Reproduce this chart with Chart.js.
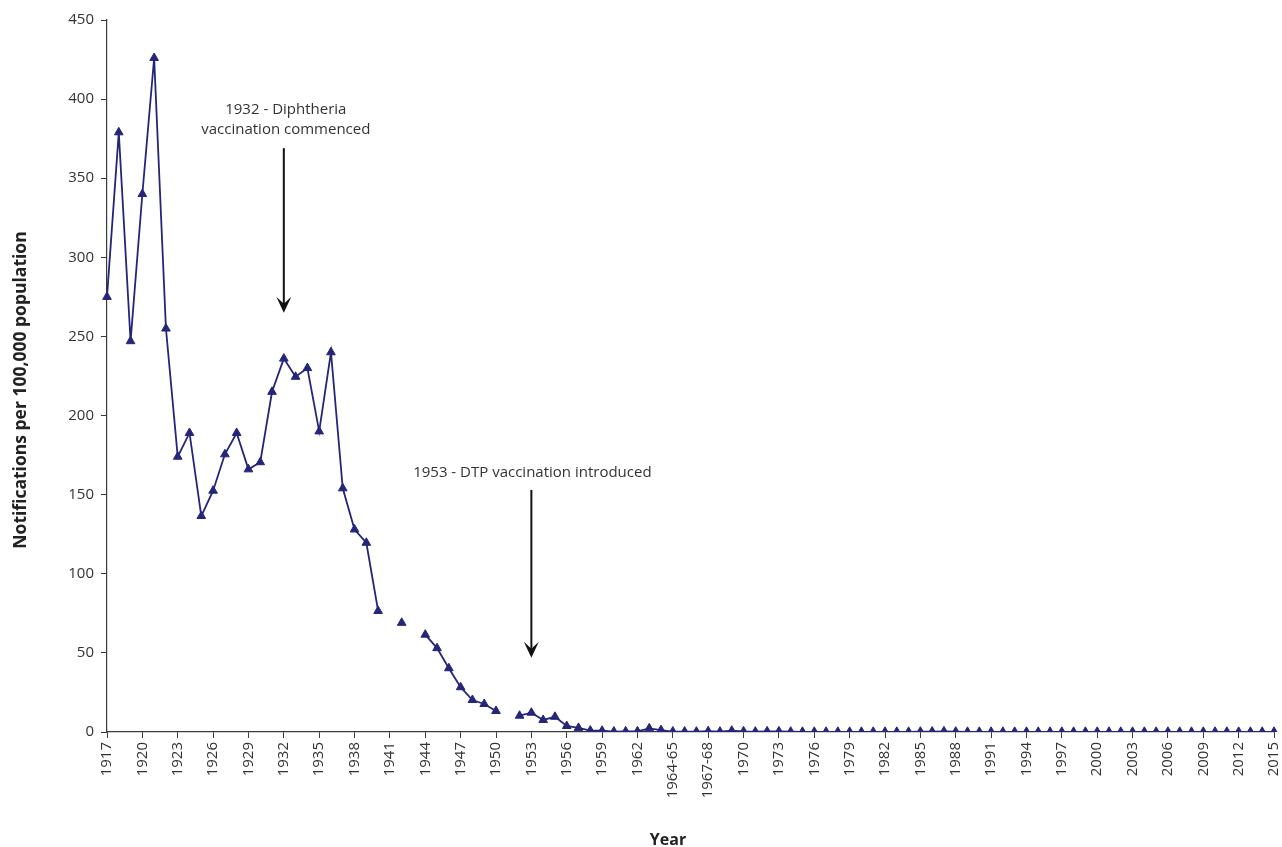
<!DOCTYPE html>
<html>
<head>
<meta charset="utf-8">
<script src="https://cdn.jsdelivr.net/npm/chart.js@4.4.1/dist/chart.umd.min.js"></script>
<style>
  html, body { margin: 0; padding: 0; background: #ffffff; }
  #wrap { width: 1282px; height: 847px; position: relative; }
</style>
</head>
<body>
<div id="wrap"><canvas id="c" width="1282" height="847"></canvas></div>
<script>
// ---------- DATA ----------
const categories = [
  "1917","1918","1919","1920","1921","1922","1923","1924","1925","1926",
  "1927","1928","1929","1930","1931","1932","1933","1934","1935","1936",
  "1937","1938","1939","1940","1941","1942","1943","1944","1945","1946",
  "1947","1948","1949","1950","1951","1952","1953","1954","1955","1956",
  "1957","1958","1959","1960","1961","1962","1963","1964","1964-65","1965-66",
  "1966-67","1967-68","1968-69","1969","1970","1971","1972","1973","1974","1975",
  "1976","1977","1978","1979","1980","1981","1982","1983","1984","1985",
  "1986","1987","1988","1989","1990","1991","1992","1993","1994","1995",
  "1996","1997","1998","1999","2000","2001","2002","2003","2004","2005",
  "2006","2007","2008","2009","2010","2011","2012","2013","2014","2015"
];

const notificationRates = [
  275, 379, 247, 340, 426, 255, 174, 189, 136.5, 152.5,
  175.5, 189, 166, 170.5, 215, 236, 224.5, 230, 190, 240,
  154, 128, 119.6, 76.5, null, 69, null, 61.5, 53, 40.3,
  28.3, 20.2, 17.7, 13.3, null, 10.3, 12.2, 7.6, 9.6, 3.8,
  2.6, 0.9, 0.8, 0.3, 0.4, 0.4, 2.3, 1.2, 0.3, 0.3,
  0.2, 0.5, 0.2, 0.8, 0.4, 0.2, 0.4, 0.4, 0.2, 0.1,
  0.1, 0.1, 0.1, 0.1, 0.1, 0.1, 0.1, 0.1, 0.1, 0.2,
  0.3, 0.4, 0.2, 0.1, 0.1, 0.1, 0.1, 0.1, 0.1, 0.1,
  0.1, 0.1, 0.1, 0.1, 0.1, 0.1, 0.1, 0.1, 0.1, 0.1,
  0.1, 0.1, 0.1, 0.1, 0.1, 0.1, 0.1, 0.1, 0.1, 0.1
];

const yTickValues = [0, 50, 100, 150, 200, 250, 300, 350, 400, 450];

const annotationTexts = [
  ["1932 - Diphtheria", "vaccination commenced"],
  ["1953 - DTP vaccination introduced"]
];
const annotationCategories = ["1932", "1953"];

const xAxisTitle = "Year";
const yAxisTitle = "Notifications per 100,000 population";

// ---------- STYLE / LAYOUT ----------
const FONT = "'Open Sans', 'Noto Sans', 'DejaVu Sans', sans-serif";
const LINE_COLOR = '#25257a';
const AXIS_COLOR = '#3a3a3a';
const TEXT_COLOR = '#333333';

// annotation placement (value-space anchors for text and arrows)
const annotationLayout = [
  { textY: [393, 380.5], arrowFrom: 369, arrowTo: 265, dx: 2 },
  { textY: [164], arrowFrom: 153, arrowTo: 47, dx: 1 }
];

const annotationPlugin = {
  id: 'vaxAnnotations',
  afterDatasetsDraw(chart) {
    const { ctx, scales: { x, y } } = chart;
    ctx.save();
    annotationTexts.forEach((lines, i) => {
      const L = annotationLayout[i];
      const px = x.getPixelForValue(categories.indexOf(annotationCategories[i]));
      ctx.font = "15px " + FONT;
      ctx.fillStyle = TEXT_COLOR;
      ctx.textAlign = 'center';
      ctx.textBaseline = 'middle';
      lines.forEach((t, j) => ctx.fillText(t, px + L.dx, y.getPixelForValue(L.textY[j])));
      const y0 = y.getPixelForValue(L.arrowFrom);
      const y1 = y.getPixelForValue(L.arrowTo);
      ctx.strokeStyle = '#111';
      ctx.lineWidth = 2;
      ctx.beginPath();
      ctx.moveTo(px, y0);
      ctx.lineTo(px, y1 - 8);
      ctx.stroke();
      ctx.fillStyle = '#111';
      ctx.beginPath();
      ctx.moveTo(px, y1);
      ctx.lineTo(px - 7.5, y1 - 16);
      ctx.lineTo(px, y1 - 9);
      ctx.lineTo(px + 7.5, y1 - 16);
      ctx.closePath();
      ctx.fill();
    });

    // axis titles
    ctx.fillStyle = '#222';
    ctx.textAlign = 'center';
    ctx.textBaseline = 'middle';
    ctx.font = "bold 16px " + FONT;
    ctx.fillText(xAxisTitle, 668, 840);
    ctx.save();
    ctx.translate(21, 390);
    ctx.rotate(-Math.PI / 2);
    ctx.font = "bold 17.5px " + FONT;
    ctx.fillText(yAxisTitle, 0, 0);
    ctx.restore();
    ctx.restore();
  }
};

new Chart(document.getElementById('c'), {
  type: 'line',
  data: {
    labels: categories,
    datasets: [{
      data: notificationRates,
      borderColor: LINE_COLOR,
      backgroundColor: LINE_COLOR,
      borderWidth: 1.8,
      pointStyle: 'triangle',
      pointRadius: 5,
      pointHoverRadius: 5,
      pointBackgroundColor: LINE_COLOR,
      pointBorderColor: LINE_COLOR,
      pointBorderWidth: 1,
      spanGaps: false,
      tension: 0,
      fill: false
    }]
  },
  options: {
    responsive: false,
    animation: false,
    devicePixelRatio: 1,
    layout: { padding: { left: 0, right: 8, top: 20, bottom: 0 } },
    plugins: {
      legend: { display: false },
      tooltip: { enabled: false }
    },
    scales: {
      x: {
        type: 'category',
        offset: false,
        border: { display: true, color: AXIS_COLOR, width: 1.2 },
        grid: {
          display: true,
          drawOnChartArea: false,
          drawTicks: true,
          tickLength: 6,
          color: (c) => (c.index % 3 === 0 ? AXIS_COLOR : 'rgba(0,0,0,0)')
        },
        ticks: {
          autoSkip: false,
          maxRotation: 90,
          minRotation: 90,
          padding: 4,
          color: TEXT_COLOR,
          font: { family: FONT, size: 15 },
          callback: (v, i) => (i % 3 === 0 ? categories[i] : '')
        },
        title: { display: false },
        afterFit: (s) => { s.height = 115; s.paddingLeft = 0; s.paddingRight = 0; }
      },
      y: {
        min: 0,
        max: 450,
        afterBuildTicks: (s) => { s.ticks = yTickValues.map(v => ({ value: v })); },
        border: { display: true, color: AXIS_COLOR, width: 1.2 },
        grid: {
          display: true,
          drawOnChartArea: false,
          drawTicks: true,
          tickLength: 6,
          color: AXIS_COLOR
        },
        ticks: {
          padding: 7,
          color: TEXT_COLOR,
          font: { family: FONT, size: 15 }
        },
        title: { display: false },
        afterFit: (s) => { s.width = 107; s.paddingTop = 0; s.paddingBottom = 0; }
      }
    }
  },
  plugins: [annotationPlugin]
});
</script>
</body>
</html>
